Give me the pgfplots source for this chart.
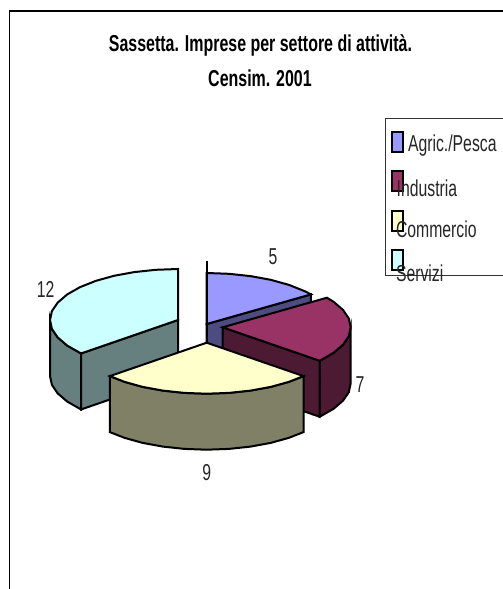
\documentclass[border=0pt]{standalone}
\usepackage{fontspec}
\setmainfont{Liberation Sans}
\newfontfamily\nf[FakeStretch=0.686]{Liberation Sans}
\newfontfamily\bfn[FakeStretch=0.694]{Liberation Sans Bold}
\usepackage{pgfplots}
\pgfplotsset{compat=1.18}
\definecolor{cblue}{HTML}{9999FF}
\definecolor{dblue}{HTML}{4C4C80}
\definecolor{cred}{HTML}{993366}
\definecolor{dred}{HTML}{4D1A33}
\definecolor{cyel}{HTML}{FFFFCC}
\definecolor{dyel}{HTML}{808066}
\definecolor{ccya}{HTML}{CCFFFF}
\definecolor{dcya}{HTML}{668080}
\tikzset{lab/.style={inner sep=0pt,outer sep=0pt,font=\nf\fontsize{23}{23}\selectfont,text=black!85}}
\begin{document}
\begin{tikzpicture}
\path[use as bounding box] (0,0) rectangle (503pt,589pt);
\begin{axis}[at={(0,0)},anchor=south west,width=503pt,height=589pt,scale only axis,xmin=0,xmax=503,ymin=0,ymax=589,y dir=reverse,hide axis,
  every axis plot/.append style={draw=black,line width=2pt,mark=none}]
% frame
\addplot[line width=1.3pt,fill=none] coordinates {(9.2,600)(9.2,11)(510,11)};
% legend box
\addplot[line width=0.9pt,draw=black!80,fill=white] coordinates {(385,275.7)(385,118.5)(520,118.5)(520,275.7)} -- cycle;
\addplot[fill=cblue] coordinates {(392,132)(403,132)(403,151.5)(392,151.5)} -- cycle;
\addplot[fill=cred] coordinates {(392,171)(403,171)(403,191)(392,191)} -- cycle;
\addplot[fill=cyel] coordinates {(392,211)(403,211)(403,230.5)(392,230.5)} -- cycle;
\addplot[fill=ccya] coordinates {(392,250)(403,250)(403,269.5)(392,269.5)} -- cycle;
% Agric./Pesca = 5
\addplot[fill=dblue] coordinates {(206.7,324)(310.9,294.4)(310.9,350.4)(206.7,380)} -- cycle;
\addplot[fill=cblue] coordinates {(206.7,324)(206.7,273)(228.9,273.8)(250.5,276.1)(270.7,279.8)(289,284.9)(304.8,291.2)(310.9,294.4)} -- cycle;
\addplot[fill=none] coordinates {(206.7,260.7)(206.7,342)};
% Industria = 7
\addplot[fill=dred] coordinates {(350.7,327.3)(348.8,336.2)(343,344.7)(333.6,352.8)(320.8,360.1)(319.5,360.7)(319.5,416.7)(320.8,416.1)(333.6,408.8)(343,400.7)(348.8,392.2)(350.7,383.3)} -- cycle;
\addplot[fill=dred] coordinates {(222.7,327.3)(319.5,360.7)(319.5,416.7)(222.7,383.3)} -- cycle;
\addplot[fill=cred] coordinates {(222.7,327.3)(326.9,297.7)(333.6,301.8)(343,309.9)(348.8,318.4)(350.7,327.3)(348.8,336.2)(343,344.7)(333.6,352.8)(320.8,360.1)(319.5,360.7)} -- cycle;
% Servizi = 12
\addplot[fill=dcya] coordinates {(81.2,353.4)(79.9,352.8)(67.1,345.5)(57.7,337.4)(51.9,328.9)(50,320)(50,376)(51.9,384.9)(57.7,393.4)(67.1,401.5)(79.9,408.8)(81.2,409.4)} -- cycle;
\addplot[fill=dcya] coordinates {(81.2,353.4)(178,320)(178,376)(81.2,409.4)} -- cycle;
\addplot[fill=ccya] coordinates {(178,320)(81.2,353.4)(79.9,352.8)(67.1,345.5)(57.7,337.4)(51.9,328.9)(50,320)(51.9,311.1)(57.7,302.6)(67.1,294.5)(79.9,287.2)(95.7,280.9)(114,275.8)(134.2,272.1)(155.8,269.8)(178,269)} -- cycle;
% Commercio = 9
\addplot[fill=dyel] coordinates {(303.5,376.1)(289,381.8)(270.7,386.9)(250.5,390.6)(228.9,392.9)(206.7,393.7)(184.5,392.9)(162.9,390.6)(142.7,386.9)(124.4,381.8)(109.9,376.1)(109.9,432.1)(124.4,437.8)(142.7,442.9)(162.9,446.6)(184.5,448.9)(206.7,449.7)(228.9,448.9)(250.5,446.6)(270.7,442.9)(289,437.8)(303.5,432.1)} -- cycle;
\addplot[fill=cyel] coordinates {(206.7,342.7)(303.5,376.1)(289,381.8)(270.7,386.9)(250.5,390.6)(228.9,392.9)(206.7,393.7)(184.5,392.9)(162.9,390.6)(142.7,386.9)(124.4,381.8)(109.9,376.1)} -- cycle;
% texts
\node[lab,anchor=base,font=\bfn\fontsize{23}{23}\selectfont,text=black] at (axis cs:260.5,51.7) {Sassetta. Imprese per settore di attività.};
\node[lab,anchor=base,font=\bfn\fontsize{23}{23}\selectfont,text=black] at (axis cs:260,86.7) {Censim. 2001};
\node[lab,anchor=base west] at (axis cs:408,151.7) {Agric./Pesca};
\node[lab,anchor=base west] at (axis cs:396.7,196.7) {Industria};
\node[lab,anchor=base west] at (axis cs:396,237.3) {Commercio};
\node[lab,anchor=base west] at (axis cs:396,281.7) {Servizi};
\node[lab,anchor=base] at (axis cs:273,264) {5};
\node[lab,anchor=base] at (axis cs:360,392.7) {7};
\node[lab,anchor=base] at (axis cs:206.7,480) {9};
\node[lab,anchor=base] at (axis cs:45.7,297.3) {12};
\end{axis}
\end{tikzpicture}
\end{document}
